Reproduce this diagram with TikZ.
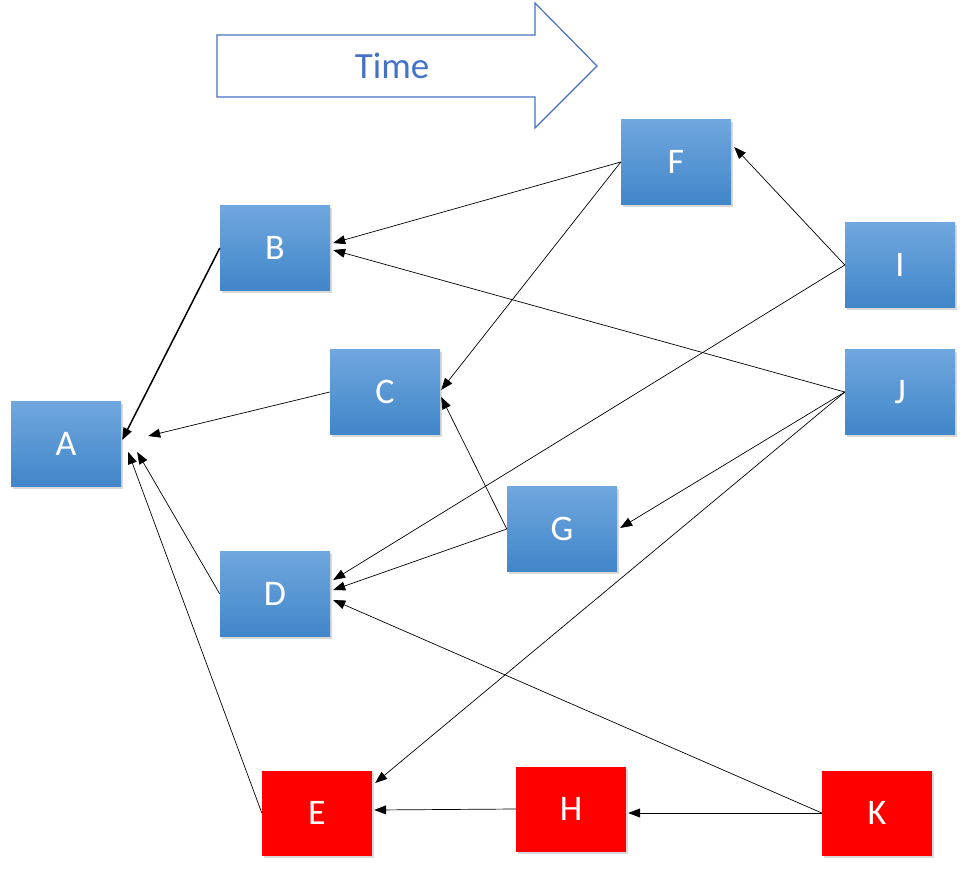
\documentclass[tikz,border=0pt]{standalone}
\usepackage{fontspec}
\setmainfont{Carlito}
\usetikzlibrary{arrows.meta, shadows}

\definecolor{boxtop}{RGB}{112,167,222}
\definecolor{boxbot}{RGB}{64,134,201}
\definecolor{timeblue}{RGB}{68,114,196}
\definecolor{boxred}{RGB}{255,0,0}

\tikzset{
  event/.style={rectangle, inner sep=0pt,
    minimum width=110pt, minimum height=85pt,
    text=white, font=\fontsize{36}{40}\selectfont,
    drop shadow={shadow xshift=1.5pt, shadow yshift=-2.5pt, opacity=0.3}},
  blueevent/.style={event, top color=boxtop, bottom color=boxbot},
  redevent/.style={event, fill=boxred},
  link/.style={-{Triangle[length=12pt,width=9pt]}, line width=0.7pt},
}

\begin{document}
\begin{tikzpicture}[x=1pt, y=-1pt]
    \useasboundingbox (0,0) rectangle (964,870);

    % time arrow
    \draw[timeblue, line width=1.2pt, line join=miter]
      (217,35) -- (535,35) -- (535,3) -- (597,66)
      -- (535,128) -- (535,97) -- (217,97) -- cycle;
    \node[text=timeblue, font=\fontsize{37}{40}\selectfont] (time) at (392,66) {Time};

    % events
    \node[blueevent] (a) at (66,444) {A};
    \node[blueevent] (b) at (275,248) {B};
    \node[blueevent] (c) at (385,392) {C};
    \node[blueevent] (d) at (275,594) {D};
    \node[redevent] (e) at (317,813) {E};
    \node[blueevent] (f) at (676,162) {F};
    \node[blueevent] (g) at (562,529) {G};
    \node[redevent] (h) at (571,809) {H};
    \node[blueevent] (i) at (900,265) {I};
    \node[blueevent] (j) at (900,392) {J};
    \node[redevent] (k) at (877,813) {K};

    % into A
    \draw[link, line width=1.5pt] (b.west) -- ([shift={(1,-4)}]a.east);
    \draw[link] (c.west) -- ([shift={(27,-8)}]a.east);
    \draw[link] (d.west) -- ([shift={(16,8)}]a.east);
    \draw[link] (e.west) -- ([shift={(7,8)}]a.east);

    % into B and C
    \draw[link] (f.west) -- ([shift={(3,-5)}]b.east);
    \draw[link] (j.west) -- ([shift={(3,2)}]b.east);
    \draw[link] (f.west) -- ([shift={(1,-2)}]c.east);
    \draw[link] (g.west) -- ([shift={(1,5)}]c.east);

    % into D
    \draw[link] (i.west) -- ([shift={(3,-14)}]d.east);
    \draw[link] (g.west) -- ([shift={(3,-4)}]d.east);
    \draw[link] (k.west) -- ([shift={(3,6)}]d.east);

    % right hand side
    \draw[link] (i.west) -- ([shift={(3,-15)}]f.east);
    \draw[link] (j.west) -- ([shift={(3,-1)}]g.east);
    \draw[link] (j.west) -- ([shift={(3,-30)}]e.east);
    \draw[link] (k.west) -- ([shift={(2,4)}]h.east);
    \draw[link] (h.west) -- ([shift={(2,-3)}]e.east);
\end{tikzpicture}
\end{document}
